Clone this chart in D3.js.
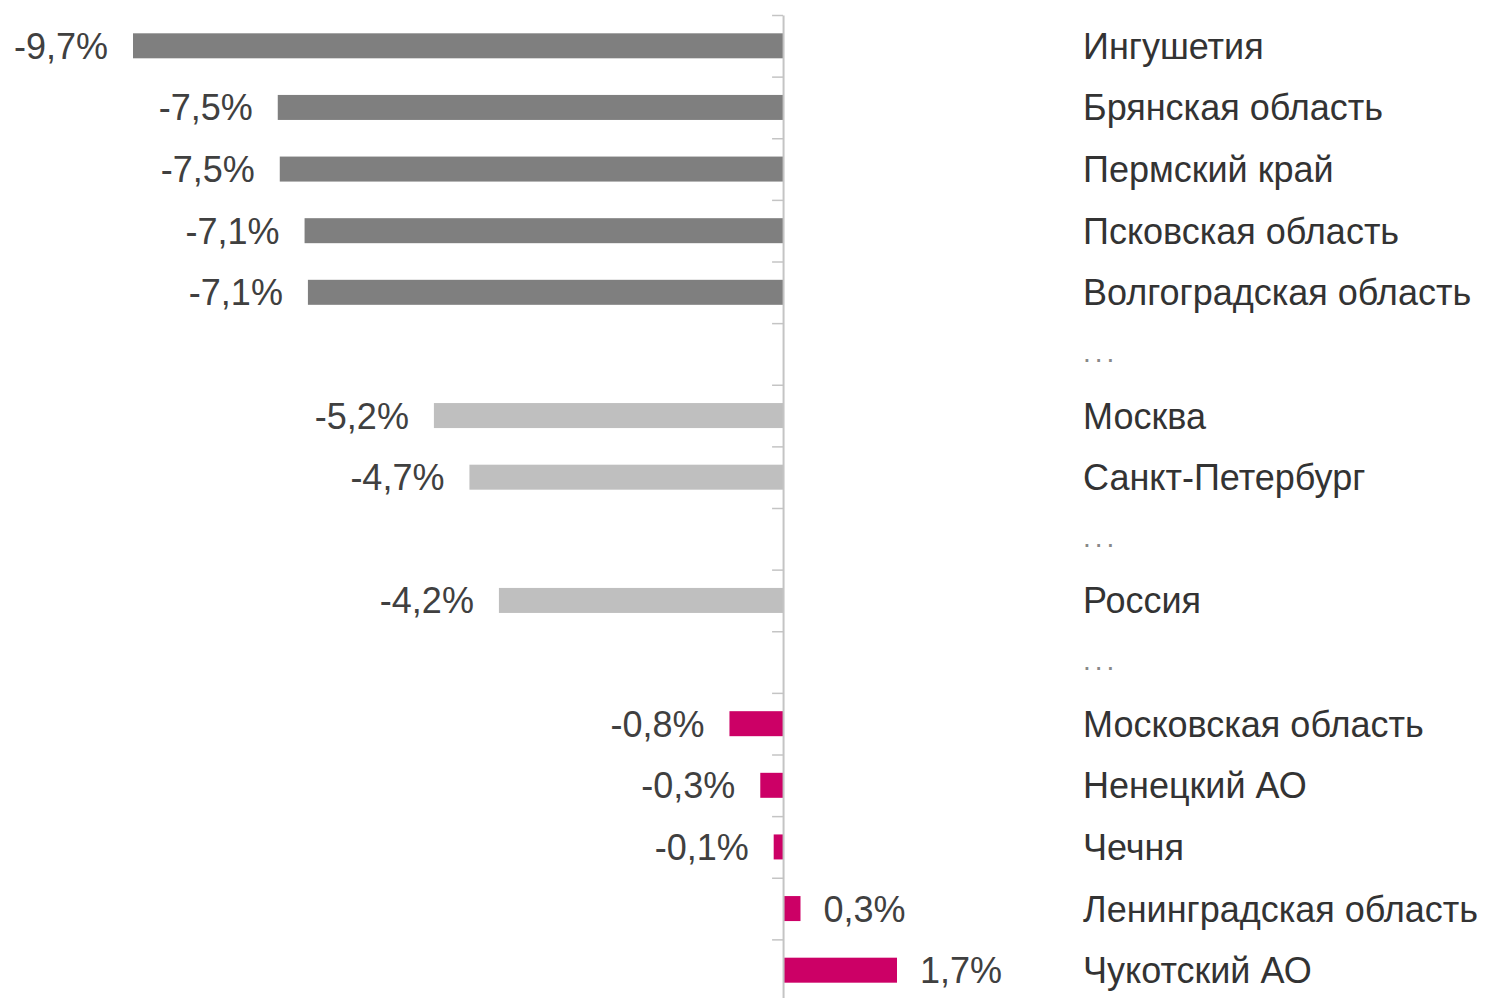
<!DOCTYPE html>
<html>
<head>
<meta charset="utf-8">
<script src="https://cdn.jsdelivr.net/npm/d3@7"></script>
<style>
  body { margin: 0; background: #fff; }
  svg text { font-family: "Liberation Sans", Arial, sans-serif; }
</style>
</head>
<body>
<svg id="chart" width="1485" height="998"></svg>
<script>
// регионы сверху вниз, "..." = пропуск
const regions = ['Ингушетия', 'Брянская область', 'Пермский край', 'Псковская область',
  'Волгоградская область', '...', 'Москва', 'Санкт-Петербург', '...', 'Россия', '...',
  'Московская область', 'Ненецкий АО', 'Чечня', 'Ленинградская область', 'Чукотский АО']
// изменение, %
const values = [-9.7, -7.54, -7.51, -7.14, -7.09, null, -5.21, -4.68, null, -4.24, null,
  -0.8, -0.34, -0.14, 0.26, 1.7]
const groups = ['low', 'low', 'low', 'low', 'low', null, 'mid', 'mid', null, 'mid', null,
  'top', 'top', 'top', 'top', 'top']

const groupColor = { low: '#7f7f7f', mid: '#bfbfbf', top: '#cc0066' }

const svg = d3.select('#chart')
const idx = d3.range(regions.length)

// шкалы
const x = d3.scaleLinear().domain([-9.7, 1.7]).range([133, 897])
const y = d3.scaleBand().domain(idx).range([15, 1001])
const yEdge = d3.scaleLinear().domain([0, regions.length]).range([15, 1001])
const barH = 25

const fmt = v => d3.format('.1f')(v).replace('.', ',').replace('−', '-') + '%'

const rows = idx.filter(i => values[i] !== null)

// бары
svg.append('g').selectAll('rect')
  .data(rows)
  .join('rect')
  .attr('x', i => Math.min(x(0), x(values[i])))
  .attr('y', i => y(i) + (y.bandwidth() - barH) / 2)
  .attr('width', i => Math.abs(x(values[i]) - x(0)))
  .attr('height', barH)
  .attr('fill', i => groupColor[groups[i]])

// ось
const axis = svg.append('g')
  .attr('transform', `translate(${x(0)},0)`)
  .call(d3.axisLeft(yEdge).tickValues(d3.range(regions.length + 1)).tickSize(11).tickSizeOuter(0).tickFormat(''))
axis.select('.domain').attr('stroke', '#c4c4c4').attr('stroke-width', 2)
axis.selectAll('.tick line').attr('stroke', '#c4c4c4').attr('stroke-width', 1.5)

// подписи значений
svg.append('g').selectAll('text')
  .data(rows)
  .join('text')
  .attr('x', i => values[i] < 0 ? x(values[i]) - 25 : x(values[i]) + 23)
  .attr('y', i => y(i) + y.bandwidth() / 2)
  .attr('dy', '0.36em')
  .attr('text-anchor', i => values[i] < 0 ? 'end' : 'start')
  .style('font-size', '36px')
  .attr('fill', '#404040')
  .text(i => fmt(values[i]))

// названия
const isGap = i => regions[i] === '...'
svg.append('g').selectAll('text')
  .data(idx)
  .join('text')
  .attr('x', 1083)
  .attr('y', i => y(i) + y.bandwidth() / 2)
  .attr('dy', i => isGap(i) ? '0.3em' : '0.36em')
  .style('font-size', i => isGap(i) ? '28px' : '36px')
  .style('letter-spacing', i => isGap(i) ? '4px' : null)
  .attr('fill', i => isGap(i) ? '#888' : '#333')
  .text(i => regions[i])
</script>
</body>
</html>
